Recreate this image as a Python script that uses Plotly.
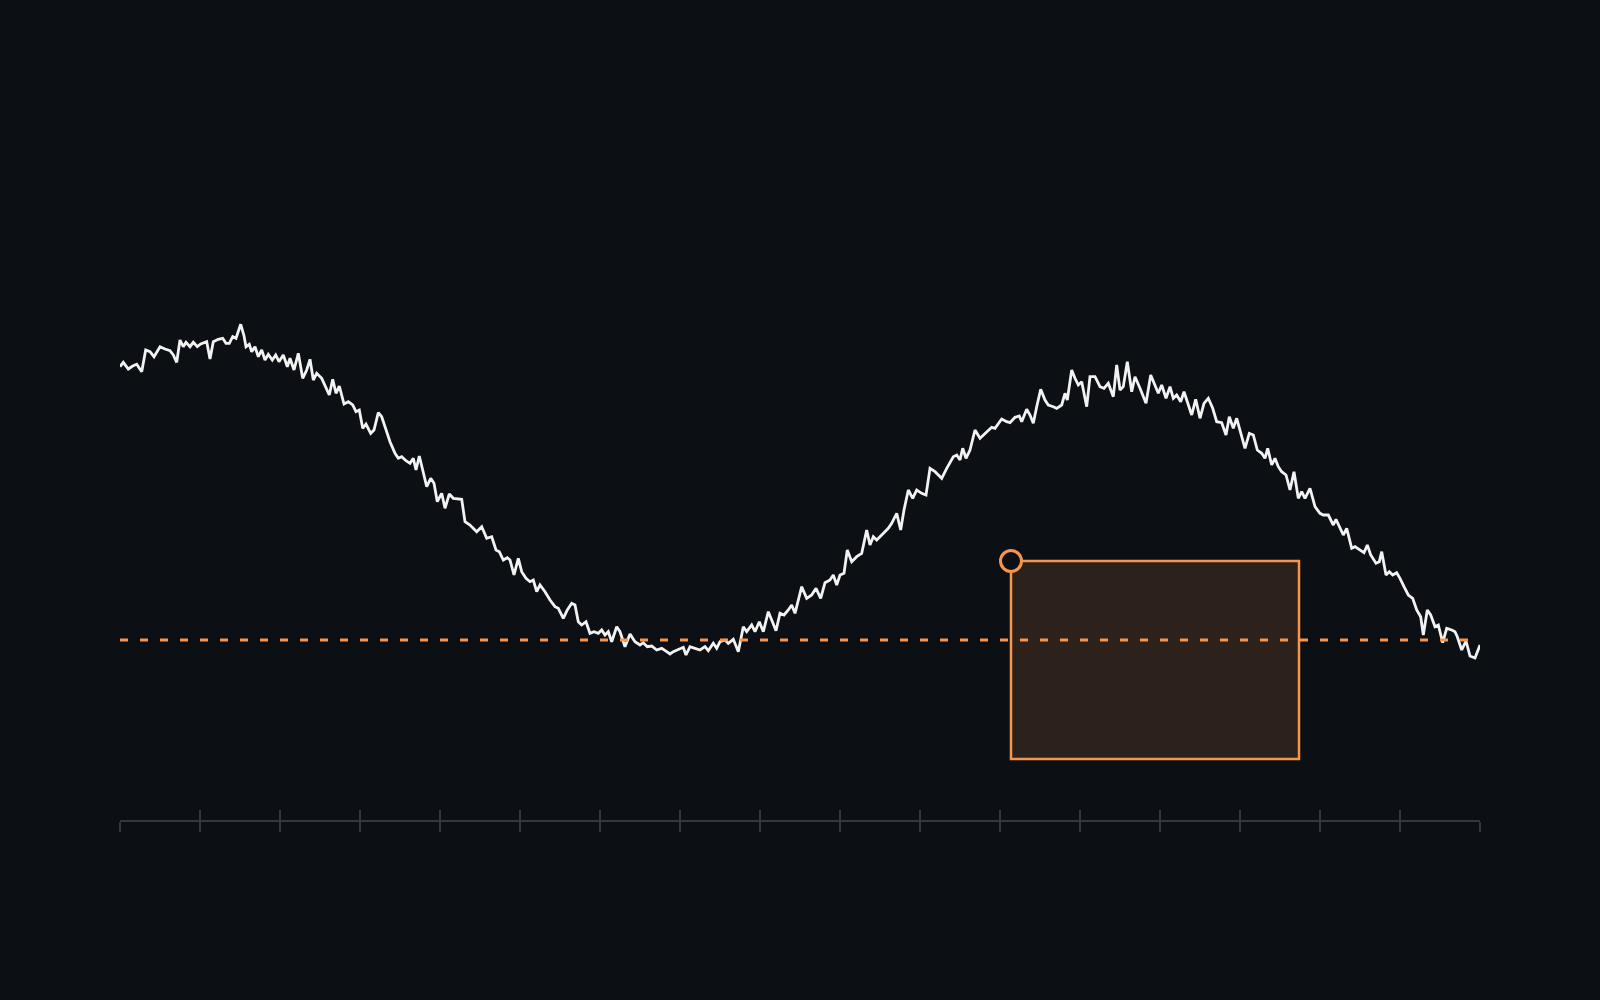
import plotly.graph_objects as go

BG = "#0c0f13"
ORANGE = "#f7964b"
LINE_COLOR = "#f2f2f2"
AXIS_COLOR = "#33383e"

# series (t = time index, level = value)
t = [
    0.0, 0.33, 0.83, 1.27, 1.67, 2.17, 2.57, 3.0, 3.4, 4.0, 4.5, 5.0, 5.33, 5.67, 6.0,
    6.33, 6.6, 7.0, 7.33, 7.73, 8.07, 8.67, 9.0, 9.33, 9.83, 10.27, 10.6, 10.93, 11.27,
    11.6, 12.07, 12.4, 12.6, 12.93, 13.17, 13.5, 13.83, 14.17, 14.5, 14.83, 15.23, 15.57,
    15.9, 16.33, 16.73,
    17.0, 17.4, 17.83, 18.27, 18.67, 19.0, 19.33, 19.67, 20.17, 20.93, 21.27, 21.6, 21.93,
    22.4, 22.83, 23.27, 23.6, 23.93, 24.27, 24.6, 25.07, 25.4, 25.83, 26.17, 26.6, 27.0,
    27.5, 27.83, 28.17, 28.6, 29.0, 29.33, 29.6, 29.93, 30.27, 30.67, 31.07, 31.4, 31.73,
    32.17, 32.5, 32.93, 33.33, 33.83,
    34.17, 34.5, 35.0, 35.67, 36.17, 36.67, 37.17, 37.6, 37.93, 38.33, 38.73, 39.0, 39.4,
    39.83, 40.17, 40.6, 41.0, 41.33, 41.67, 42.0, 42.5, 43.0, 43.5, 43.83, 44.33, 44.73,
    45.17, 45.5, 45.83, 46.17, 46.6, 47.0, 47.4, 47.83, 48.17, 48.5, 48.83, 49.17, 49.67,
    50.0,
    50.5, 51.0, 51.5, 52.0, 52.33, 52.73, 53.17, 53.67, 54.17, 54.67, 55.0, 55.33, 55.83,
    56.33, 56.6, 57.0, 57.5, 58.0, 58.5, 58.83, 59.33, 59.67, 60.0, 60.5, 60.83, 61.33,
    61.83, 62.33, 62.67, 63.17, 63.5, 63.93, 64.33, 64.83, 65.17, 65.6, 66.0, 66.4, 66.83,
    67.17, 67.5,
    68.17, 68.67, 69.17, 69.6, 70.07, 70.5, 71.0, 71.33, 71.67, 72.0, 72.4, 72.73, 73.17,
    73.67, 74.17, 74.67, 75.0, 75.33, 75.67, 76.17, 76.83, 77.17, 77.67, 78.07, 78.4,
    78.83, 79.27, 79.67, 80.17, 80.6, 81.0, 81.5, 82.17, 82.67, 83.33, 83.67, 84.0, 84.27,
    84.6, 85.0,
    85.5, 86.0, 86.67, 87.17, 87.5, 88.17, 88.67, 89.0, 89.5, 89.93, 90.17, 90.67, 91.0,
    91.33, 91.67, 92.07, 92.5, 92.83, 93.33, 93.67, 94.17, 94.5, 94.73, 95.17, 95.5,
    95.83, 96.17, 96.67, 97.0, 97.5, 98.0, 98.4, 98.83, 99.33, 99.67, 100.0, 100.33,
    100.73, 101.17,
    101.5, 102.0, 102.6, 103.07, 103.5, 103.83, 104.17, 104.6, 105.0, 105.33, 105.67,
    106.07, 106.4, 106.83, 107.17, 107.57, 108.0, 108.4, 108.83, 109.27, 109.67, 110.17,
    110.6, 110.93, 111.33, 111.67, 112.1, 112.5, 112.93, 113.33, 113.73, 114.17, 114.5,
    114.77, 115.17, 115.5, 115.83, 116.17, 116.6, 117.0, 117.4, 117.83, 118.17, 118.5,
    119.0,
    119.5, 120.0, 120.33, 120.83, 121.33, 121.6, 122.0, 122.33, 122.67, 123.17, 123.5,
    124.0, 124.4, 124.73, 125.07, 125.6, 125.93, 126.17, 126.6, 126.93, 127.27, 127.67,
    128.0, 128.4, 128.83, 129.27, 129.67, 130.07, 130.33, 130.73, 131.07, 131.5, 131.83,
    132.27, 132.67, 133.17, 133.5, 133.73, 134.17, 134.6, 135.0, 135.5, 136.0,
]

level = [
    45.33, 45.77, 45.1, 45.4, 45.57, 44.83, 47.0, 46.83, 46.33, 47.33, 47.1, 46.93, 46.5,
    45.77, 48.0, 47.33, 47.77, 47.33, 47.77, 47.33, 47.6, 47.83, 46.1, 47.83, 48.07, 48.17,
    47.67, 47.67, 48.33, 48.17, 49.57, 48.43, 47.33, 47.57, 46.83, 47.33, 46.33, 47.0,
    46.0, 46.57, 46.0, 46.5, 45.83, 46.5, 45.33,
    46.17, 45.0, 46.67, 44.17, 45.0, 46.07, 44.0, 44.67, 44.17, 42.5, 44.07, 42.67, 43.4,
    41.6, 41.83, 41.5, 40.83, 41.0, 39.17, 39.6, 38.67, 39.0, 40.73, 40.33, 39.0, 37.83,
    36.67, 36.17, 36.33, 35.93, 35.67, 36.17, 35.0, 36.4, 35.0, 33.33, 34.17, 33.67, 31.83,
    32.67, 31.17, 32.6, 32.17, 32.07,
    32.07, 29.83, 29.5, 28.83, 29.33, 28.17, 28.33, 27.0, 26.83, 26.0, 26.23, 26.0, 24.5,
    26.17, 24.83, 24.17, 23.83, 24.0, 22.83, 23.5, 22.83, 22.0, 21.33, 21.17, 20.17, 21.0,
    21.67, 21.5, 19.83, 19.5, 19.83, 18.67, 18.83, 18.67, 19.0, 18.5, 18.83, 17.83, 19.33,
    18.83,
    17.33, 18.6, 17.83, 17.5, 17.73, 17.33, 17.4, 17.0, 17.17, 16.83, 16.6, 16.83, 17.07,
    17.27, 16.5, 17.33, 17.17, 17.0, 17.33, 16.93, 17.67, 17.17, 17.83, 18.0, 17.67, 18.07,
    16.83, 19.33, 18.83, 19.5, 18.83, 19.83, 18.83, 20.83, 20.0, 18.93, 20.67, 20.5, 21.0,
    21.5, 20.67,
    23.33, 22.17, 22.5, 23.17, 22.17, 23.73, 24.0, 24.5, 23.5, 24.5, 24.67, 27.0, 25.83,
    26.33, 26.67, 29.0, 27.5, 28.33, 28.0, 28.5, 29.17, 29.67, 30.67, 29.0, 31.0, 33.0,
    32.17, 33.0, 32.67, 32.5, 35.17, 34.83, 34.17, 35.17, 36.33, 36.5, 36.0, 37.17, 36.17,
    37.0,
    39.0, 38.17, 38.83, 39.27, 39.17, 40.1, 39.83, 39.73, 40.27, 40.4, 39.83, 41.07, 40.5,
    39.67, 41.33, 43.07, 42.0, 41.5, 41.33, 41.17, 41.5, 42.67, 42.0, 45.0, 44.17, 43.5,
    43.83, 41.33, 44.33, 44.33, 43.33, 43.17, 43.67, 42.33, 45.5, 43.0, 43.33, 45.83,
    42.83,
    44.33, 43.17, 41.67, 44.5, 43.5, 42.67, 43.5, 42.17, 43.33, 42.17, 42.5, 41.83, 42.83,
    41.5, 40.5, 42.07, 40.17, 41.67, 42.17, 41.17, 39.83, 39.73, 38.5, 40.33, 39.17, 40.17,
    38.5, 37.17, 38.67, 38.5, 37.0, 36.67, 36.17, 37.17, 35.5, 36.17, 35.33, 34.83, 34.5,
    33.0, 34.83, 32.17, 32.83, 32.17, 33.17,
    31.33, 30.67, 30.5, 30.5, 29.5, 30.07, 29.17, 28.5, 29.17, 27.17, 27.33, 27.0, 26.73,
    27.5, 26.5, 25.67, 25.83, 26.83, 24.5, 24.83, 24.5, 24.73, 24.17, 23.33, 22.5, 22.17,
    21.0, 20.33, 18.5, 21.0, 20.5, 19.33, 19.5, 17.73, 19.17, 19.0, 18.83, 18.33, 17.0,
    17.9, 16.4, 16.2, 17.5,
]

threshold = 18.0
box_t = [89.1, 117.9]
box_level = [6.1, 25.9]
t_range = [0, 136]
level_range = [0, 74]
tick_step = 8


def main():
    fig = go.Figure()

    fig.add_shape(
        type="rect", xref="x", yref="y",
        x0=box_t[0], x1=box_t[1], y0=box_level[0], y1=box_level[1],
        line=dict(color=ORANGE, width=2.5),
        fillcolor="rgba(247,150,75,0.14)",
        layer="below",
    )

    # dashed threshold sits on the overlay axis (which also carries the inner ticks)
    fig.add_trace(go.Scatter(
        x=t_range, y=[threshold, threshold], xaxis="x2",
        mode="lines", line=dict(color=ORANGE, width=3, dash="8px,12px"),
        hoverinfo="skip",
    ))
    fig.add_trace(go.Scatter(
        x=t, y=level, mode="lines",
        line=dict(color=LINE_COLOR, width=2.8),
    ))
    fig.add_trace(go.Scatter(
        x=[box_t[0]], y=[box_level[1]], mode="markers",
        marker=dict(size=21, color=BG, line=dict(color=ORANGE, width=3)),
    ))

    tick_style = dict(
        tickmode="linear", tick0=0, dtick=tick_step, ticklen=10, tickwidth=2,
        tickcolor=AXIS_COLOR, showticklabels=False, showgrid=False, zeroline=False,
        range=t_range, fixedrange=True,
    )
    fig.update_layout(
        width=1600, height=1000,
        margin=dict(l=120, r=120, t=80, b=180),
        paper_bgcolor=BG, plot_bgcolor=BG,
        showlegend=False,
        xaxis=dict(showline=True, linecolor=AXIS_COLOR, linewidth=2, ticks="outside", **tick_style),
        xaxis2=dict(overlaying="x", anchor="y", side="bottom", showline=False, ticks="inside", **tick_style),
        yaxis=dict(range=level_range, visible=False, fixedrange=True),
    )

    fig.write_html(
        "out.html",
        config={"displayModeBar": False},
        post_script="document.body.style.margin='0';document.body.style.overflow='hidden';",
    )


if __name__ == "__main__":
    main()
